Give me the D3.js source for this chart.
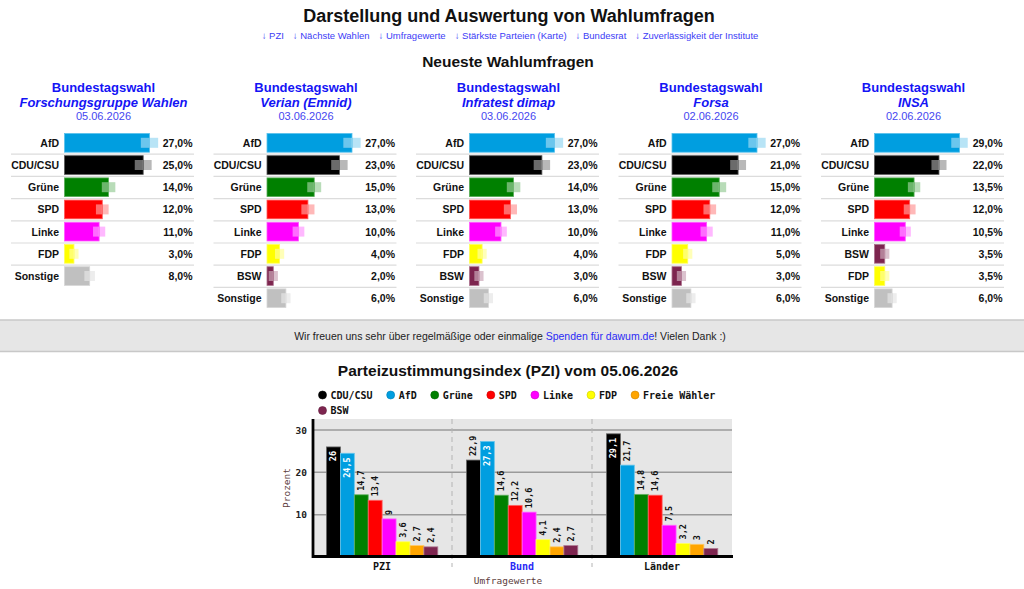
<!DOCTYPE html>
<html><head><meta charset="utf-8">
<script src="https://cdn.jsdelivr.net/npm/d3@7"></script>
<style>
html,body{margin:0;padding:0;background:#fff;}
svg{display:block;}
</style></head>
<body>
<svg id="c" width="1024" height="589"></svg>
<script>
// ---------- DATA ----------
const pageTitle = "Darstellung und Auswertung von Wahlumfragen";
const navLinks = ["↓ PZI","↓ Nächste Wahlen","↓ Umfragewerte","↓ Stärkste Parteien (Karte)","↓ Bundesrat","↓ Zuverlässigkeit der Institute"];
const sectionTitle = "Neueste Wahlumfragen";

const pollInstitutes = ["Forschungsgruppe Wahlen","Verian (Emnid)","Infratest dimap","Forsa","INSA"];
const pollDates = ["05.06.2026","03.06.2026","03.06.2026","02.06.2026","02.06.2026"];
const pollParties = [
  ["AfD","CDU/CSU","Grüne","SPD","Linke","FDP","Sonstige"],
  ["AfD","CDU/CSU","Grüne","SPD","Linke","FDP","BSW","Sonstige"],
  ["AfD","CDU/CSU","Grüne","SPD","Linke","FDP","BSW","Sonstige"],
  ["AfD","CDU/CSU","Grüne","SPD","Linke","FDP","BSW","Sonstige"],
  ["AfD","CDU/CSU","Grüne","SPD","Linke","BSW","FDP","Sonstige"]
];
const pollValues = [
  [27,25,14,12,11,3,8],
  [27,23,15,13,10,4,2,6],
  [27,23,14,13,10,4,3,6],
  [27,21,15,12,11,5,3,6],
  [29,22,13.5,12,10.5,3.5,3.5,6]
];
const pollSampleSize = 1000;

const bannerPre = "Wir freuen uns sehr über regelmäßige oder einmalige ";
const bannerLink = "Spenden für dawum.de";
const bannerPost = "! Vielen Dank :)";

const pziTitle = "Parteizustimmungsindex (PZI) vom 05.06.2026";
const pziGroups = ["PZI","Bund","Länder"];
const pziSeries = ["CDU/CSU","AfD","Grüne","SPD","Linke","FDP","Freie Wähler","BSW"];
const pziPZI    = [26,24.5,14.7,13.4,9,3.6,2.7,2.4];
const pziBund   = [22.9,27.3,14.6,12.2,10.6,4.1,2.4,2.7];
const pziLaender= [29.1,21.7,14.8,14.6,7.5,3.2,3,2];
const pziTicks  = [10,20,30];
const pziYMax   = 32.6;
const pziYTitle = "Prozent";
const pziXTitle = "Umfragewerte";

const partyColors = {
  "AfD":"#009ee0","CDU/CSU":"#000000","Grüne":"#008000","SPD":"#ff0000",
  "Linke":"#ff00ff","FDP":"#ffff00","BSW":"#7d254f","Sonstige":"#c0c0c0",
  "Freie Wähler":"#ffa500"
};

// ---------- DRAW ----------
const svg = d3.select("#c");
const SANS = "'Liberation Sans', Arial, Helvetica, sans-serif";
const MONO = "'DejaVu Sans Mono', monospace";
const BLUE = "#1414f5";

svg.append("text").attr("x",509).attr("y",22).attr("text-anchor","middle")
  .attr("font-family",SANS).attr("font-weight","bold").attr("font-size",18)
  .attr("fill","#111").text(pageTitle);

const nav = svg.append("text").attr("x",510).attr("y",38.5).attr("text-anchor","middle")
  .attr("font-family",SANS).attr("font-size",9.5).attr("fill","#3c3cf6");
nav.selectAll("tspan").data(navLinks).join("tspan")
  .attr("dx",(d,i)=>i?9:0).text(d=>d);

svg.append("text").attr("x",508).attr("y",66.5).attr("text-anchor","middle")
  .attr("font-family",SANS).attr("font-weight","bold").attr("font-size",15.5)
  .attr("fill","#111").text(sectionTitle);

// poll panels
const panelX = d3.scaleBand().domain(d3.range(pollInstitutes.length)).range([11,1004]).paddingInner(0.0963);
const rowH = 22.2, rowTop = 132, barOff = 53.5, barMaxW = 85, panelW = panelX.bandwidth();

pollInstitutes.forEach((inst,i)=>{
  const g = svg.append("g").attr("transform",`translate(${panelX(i)},0)`);
  const cx = panelW/2 + 1;
  g.append("text").attr("x",cx).attr("y",92).attr("text-anchor","middle")
    .attr("font-family",SANS).attr("font-weight","bold").attr("font-size",13)
    .attr("fill",BLUE).text("Bundestagswahl");
  g.append("text").attr("x",cx).attr("y",107).attr("text-anchor","middle")
    .attr("font-family",SANS).attr("font-weight","bold").attr("font-style","italic").attr("font-size",13)
    .attr("fill",BLUE).text(inst);
  g.append("text").attr("x",cx).attr("y",120).attr("text-anchor","middle")
    .attr("font-family",SANS).attr("font-size",11)
    .attr("fill","#4646f0").text(pollDates[i]);

  const vals = pollValues[i], parties = pollParties[i];
  const x = d3.scaleLinear().domain([0,d3.max(vals)]).range([0,barMaxW]);
  const y = d3.scaleBand().domain(d3.range(vals.length)).range([rowTop,rowTop+rowH*vals.length]);

  // separators
  g.selectAll("line.sep").data(d3.range(1,vals.length)).join("line")
    .attr("x1",0).attr("x2",panelW).attr("y1",d=>y(d)).attr("y2",d=>y(d))
    .attr("stroke","#dcdcdc").attr("stroke-width",1.2);

  const rows = g.selectAll("g.row").data(vals).join("g")
    .attr("transform",(d,j)=>`translate(0,${y(j)})`);
  rows.append("text").attr("x",barOff-5.5).attr("y",rowH/2+3.8).attr("text-anchor","end")
    .attr("font-family",SANS).attr("font-weight","bold").attr("font-size",10.5)
    .attr("fill","#111").text((d,j)=>parties[j]);
  rows.append("rect").attr("x",barOff).attr("y",1.5).attr("height",rowH-3.5)
    .attr("width",d=>x(d))
    .attr("fill",(d,j)=>partyColors[parties[j]])
    .attr("stroke",(d,j)=>d3.interpolateRgb(partyColors[parties[j]],"#fff")(0.35))
    .attr("stroke-width",0.8);
  // error margin ghost
  const marginPx = d => Math.max(4.6, x(1.96*Math.sqrt((d/100)*(1-d/100)/pollSampleSize)*100));
  rows.append("rect").attr("x",d=>barOff+x(d)-marginPx(d)).attr("y",rowH/2-5.3).attr("height",10)
    .attr("width",d=>marginPx(d)).attr("fill","#fff").attr("opacity",0.42);
  rows.append("rect").attr("x",d=>barOff+x(d)).attr("y",rowH/2-5.3).attr("height",10)
    .attr("width",d=>marginPx(d)).attr("fill",(d,j)=>partyColors[parties[j]]).attr("opacity",0.28);
  rows.append("text").attr("x",panelW-1.5).attr("y",rowH/2+3.8).attr("text-anchor","end")
    .attr("font-family",SANS).attr("font-weight","bold").attr("font-size",10.5)
    .attr("fill","#111").text(d=>d.toFixed(1).replace(".",",")+"%");
});

// banner
svg.append("rect").attr("x",0).attr("y",320).attr("width",1024).attr("height",31.5)
  .attr("fill","#e6e6e6");
svg.append("line").attr("x1",0).attr("x2",1024).attr("y1",320).attr("y2",320).attr("stroke","#c8c8c8").attr("stroke-width",1.5);
svg.append("line").attr("x1",0).attr("x2",1024).attr("y1",351.5).attr("y2",351.5).attr("stroke","#c8c8c8").attr("stroke-width",1.5);
const bt = svg.append("text").attr("x",510).attr("y",340).attr("text-anchor","middle")
  .attr("font-family",SANS).attr("font-size",10.5).attr("fill","#222");
bt.append("tspan").text(bannerPre);
bt.append("tspan").attr("fill","#2a2af5").text(bannerLink);
bt.append("tspan").text(bannerPost);

// PZI chart
svg.append("text").attr("x",508).attr("y",376).attr("text-anchor","middle")
  .attr("font-family",SANS).attr("font-weight","bold").attr("font-size",15.5)
  .attr("fill","#111").text(pziTitle);

const plotL = 312, plotR = 732, plotT = 419, plotB = 557;
// legend
const leg = svg.append("g");
let lx = 322.5, ly = 395;
pziSeries.forEach(s=>{
  const t = leg.append("text").attr("font-family",MONO).attr("font-weight","bold").attr("font-size",10)
    .attr("fill","#111").text(s);
  const w = t.node().getComputedTextLength();
  if (lx + 8 + w > plotR) { lx = 322.5; ly += 15.5; }
  leg.append("circle").attr("cx",lx).attr("cy",ly).attr("r",4).attr("fill",partyColors[s])
    .attr("stroke",d3.color(partyColors[s]).darker(0.6)).attr("stroke-width",0.6);
  t.attr("x",lx+8).attr("y",ly+3.5);
  lx += 8 + w + 18;
});

const yS = d3.scaleLinear().domain([0,pziYMax]).range([plotB,plotT]);
const x0 = d3.scaleBand().domain(pziGroups).range([plotL,plotR]);
const x1 = d3.scaleBand().domain(pziSeries).range([14.5,125.8]);

svg.append("rect").attr("x",plotL).attr("y",plotT).attr("width",plotR-plotL).attr("height",plotB-plotT).attr("fill","#e6e6e6");
// grid
svg.selectAll("line.grid").data(pziTicks).join("line")
  .attr("x1",plotL).attr("x2",plotR).attr("y1",d=>yS(d)).attr("y2",d=>yS(d))
  .attr("stroke","#9a9a9a").attr("stroke-width",1.5);
// dashed separators
svg.selectAll("line.vsep").data(pziGroups.slice(1)).join("line")
  .attr("x1",d=>x0(d)).attr("x2",d=>x0(d)).attr("y1",plotT).attr("y2",plotB+10)
  .attr("stroke","#b4b4b4").attr("stroke-width",1).attr("stroke-dasharray","5,4");
// tick labels
svg.selectAll("text.yt").data(pziTicks).join("text")
  .attr("x",plotL-5).attr("y",d=>yS(d)+3.5).attr("text-anchor","end")
  .attr("font-family",MONO).attr("font-weight","bold").attr("font-size",9.5).attr("fill","#222")
  .text(d=>d);

const pziData = [pziPZI,pziBund,pziLaender];
pziGroups.forEach((grp,gi)=>{
  const g = svg.append("g").attr("transform",`translate(${x0(grp)},0)`);
  const vals = pziData[gi];
  g.selectAll("rect").data(vals).join("rect")
    .attr("x",(d,j)=>x1(pziSeries[j])).attr("width",x1.bandwidth())
    .attr("y",d=>yS(d)).attr("height",d=>plotB-yS(d))
    .attr("fill",(d,j)=>partyColors[pziSeries[j]])
    .attr("stroke",(d,j)=>d3.interpolateRgb(partyColors[pziSeries[j]],"#fff")(0.4))
    .attr("stroke-width",0.8);
  g.selectAll("text.v").data(vals).join("text")
    .attr("transform",(d,j)=>{
      const cx = x1(pziSeries[j]) + x1.bandwidth()/2 + 3;
      const inside = d >= 24;
      const yy = inside ? yS(d)+4 : yS(d)-4;
      return `translate(${cx},${yy}) rotate(-90)`;
    })
    .attr("text-anchor",d=>d>=24?"end":"start")
    .attr("font-family",MONO).attr("font-weight","bold").attr("font-size",8.5)
    .attr("fill",d=>d>=24?"#fff":"#111")
    .text(d=>String(d).replace(".",","));
  g.append("text").attr("x",x0.bandwidth()/2).attr("y",570).attr("text-anchor","middle")
    .attr("font-family",MONO).attr("font-weight","bold").attr("font-size",10)
    .attr("fill",grp==="Bund"?"#2a2af5":"#111").text(grp);
});

// axes lines
svg.append("line").attr("x1",plotL+1).attr("x2",plotL+1).attr("y1",plotT).attr("y2",plotB+1).attr("stroke","#000").attr("stroke-width",2.8);
svg.append("line").attr("x1",plotL).attr("x2",plotR+1).attr("y1",plotB-0.5).attr("y2",plotB-0.5).attr("stroke","#000").attr("stroke-width",2.8);

svg.append("text").attr("transform",`translate(${290},${488}) rotate(-90)`).attr("text-anchor","middle")
  .attr("font-family",MONO).attr("font-size",9.5).attr("fill","#5c3c3c").text(pziYTitle);
svg.append("text").attr("x",508).attr("y",584).attr("text-anchor","middle")
  .attr("font-family",MONO).attr("font-size",9.5).attr("fill","#5c3c3c").text(pziXTitle);
</script>
</body></html>
